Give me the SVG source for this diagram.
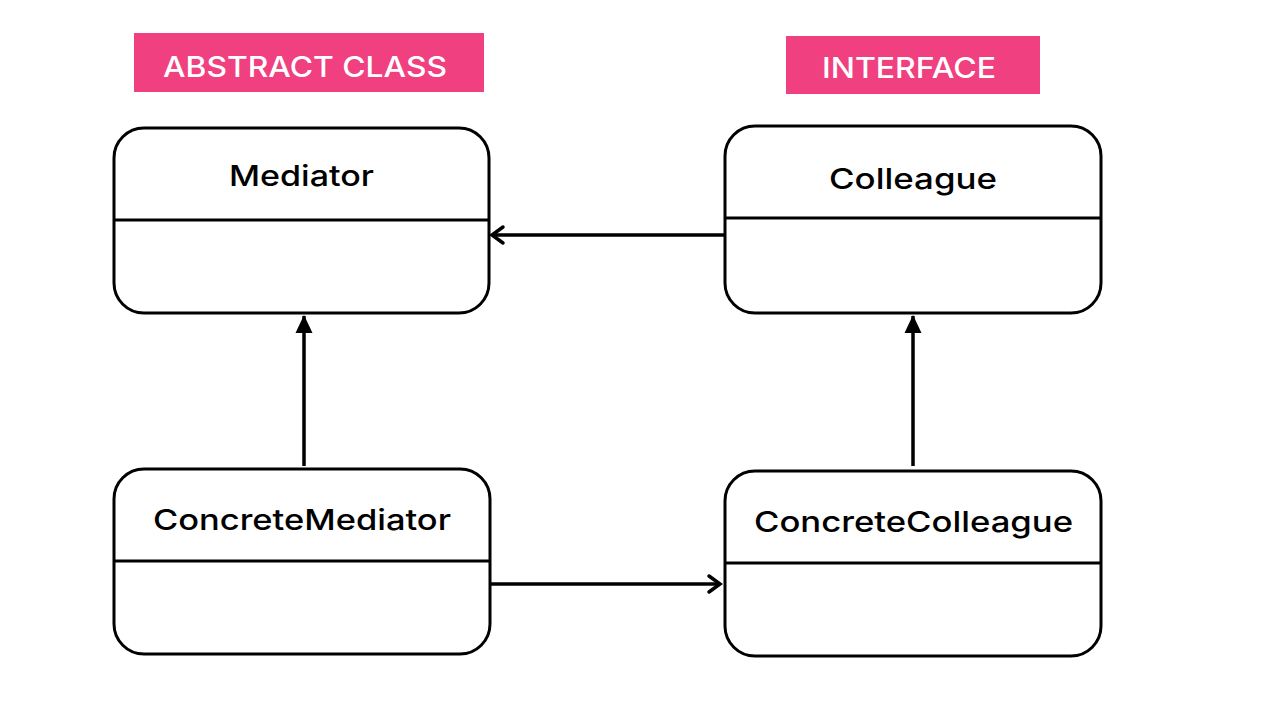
<svg xmlns="http://www.w3.org/2000/svg" width="1275" height="701" viewBox="0 0 1275 701">
<style>
.box{fill:#fff;stroke:#000;stroke-width:3}
.div{stroke:#000;stroke-width:3}
.name{font-family:Inter,"Noto Sans",sans-serif;font-weight:500;font-size:29px;fill:#000;text-anchor:middle}
.tag{fill:#F0407F}
.tagt{font-family:Inter,"Noto Sans",sans-serif;font-weight:500;font-size:29px;fill:#fff;text-anchor:middle}
.conn{stroke:#000;stroke-width:3.5;fill:none}
.head{stroke:#000;stroke-width:3.5;fill:none;stroke-linecap:round;stroke-linejoin:miter}
</style>
<defs>
<marker id="tri" viewBox="0 0 18 18" refX="17" refY="9" markerWidth="18" markerHeight="18" markerUnits="userSpaceOnUse" orient="auto">
<path d="M0,0.5 L18,9 L0,17.5 Z" fill="#000"/>
</marker>
</defs>
<rect width="1275" height="701" fill="#fff"/>
<g id="label-abstract">
<rect class="tag" x="134" y="33" width="350" height="59"/>
<text class="tagt" x="305" y="77" textLength="284" lengthAdjust="spacingAndGlyphs">ABSTRACT CLASS</text>
</g>
<g id="label-interface">
<rect class="tag" x="786" y="36" width="254" height="58"/>
<text class="tagt" x="909" y="78" textLength="174" lengthAdjust="spacingAndGlyphs">INTERFACE</text>
</g>
<g id="mediator">
<rect class="box" x="114" y="128" width="375" height="185" rx="30"/>
<line class="div" x1="114" y1="220" x2="489" y2="220"/>
<text class="name" x="301.5" y="186" textLength="145" lengthAdjust="spacingAndGlyphs">Mediator</text>
</g>
<g id="colleague">
<rect class="box" x="725" y="126" width="376" height="187" rx="30"/>
<line class="div" x1="725" y1="218" x2="1101" y2="218"/>
<text class="name" x="913" y="189" textLength="168" lengthAdjust="spacingAndGlyphs">Colleague</text>
</g>
<g id="concrete-mediator">
<rect class="box" x="114" y="469" width="376" height="185" rx="30"/>
<line class="div" x1="114" y1="561" x2="490" y2="561"/>
<text class="name" x="302" y="530" textLength="298" lengthAdjust="spacingAndGlyphs">ConcreteMediator</text>
</g>
<g id="concrete-colleague">
<rect class="box" x="725" y="471" width="376" height="185" rx="30"/>
<line class="div" x1="725" y1="563" x2="1101" y2="563"/>
<text class="name" x="913.5" y="532" textLength="319" lengthAdjust="spacingAndGlyphs">ConcreteColleague</text>
</g>
<g id="connectors">
<line class="conn" x1="724" y1="235" x2="492" y2="235"/>
<path class="head" d="M503,227 L492,235 L503,243"/>
<line class="conn" x1="304" y1="466" x2="304" y2="316" marker-end="url(#tri)"/>
<line class="conn" x1="913" y1="466" x2="913" y2="316" marker-end="url(#tri)"/>
<line class="conn" x1="491" y1="584" x2="720" y2="584"/>
<path class="head" d="M709,576 L720,584 L709,592"/>
</g>
</svg>
